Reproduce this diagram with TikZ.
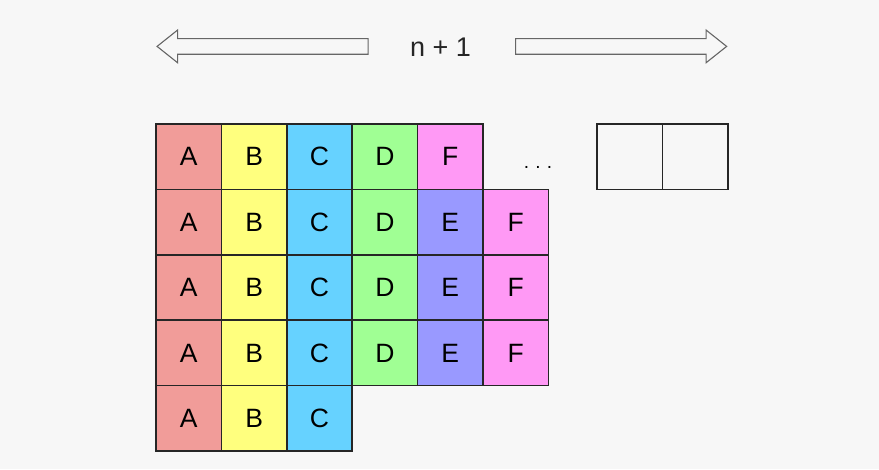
\documentclass[tikz,border=0pt]{standalone}
\usepackage{fontspec}
\setmainfont{Liberation Sans}
\usepackage{tikz}
\usetikzlibrary{positioning, shapes.arrows}
\definecolor{bgcol}{HTML}{F7F7F7}
\definecolor{colA}{HTML}{F19C99}
\definecolor{colB}{HTML}{FFFF7E}
\definecolor{colC}{HTML}{66D2FF}
\definecolor{colD}{HTML}{A0FF94}
\definecolor{colE}{HTML}{9999FF}
\definecolor{colF}{HTML}{FF99F5}

\begin{document}
\begin{tikzpicture}[x=1pt, y=-1pt, node distance=0pt, cell/.style={rectangle, draw=black!85, line width=1.5pt, outer sep=0pt, inner sep=0pt, minimum size=65.4pt, font=\fontsize{26.5}{30}\selectfont}, slot/.style={rectangle, draw=black!85, line width=1.5pt, outer sep=0pt, inner sep=0pt, minimum size=65.4pt}, wide/.style={single arrow, draw=black!60, line width=1.1pt, inner sep=7.3pt, minimum height=211pt, single arrow head extend=8.5pt, single arrow tip angle=77}]

    % Background
    \fill[bgcol] (0,0) rectangle (879,469);
    \useasboundingbox (0,0) rectangle (879,469);

    % Arrows and length
    \node[wide, shape border rotate=180] (leftarr)  at (267.5,46.4) {};
    \node[wide]                          (rightarr) at (616.2,46.4) {};
    \node[font=\fontsize{27}{30}\selectfont, text=black!85] (len) at (440.5,47.6) {n + 1};

    % Row 1
    \node[cell, fill=colA] (a1)                     at (188.7,156.7) {A};
    \node[cell, fill=colB] (b1)     [right=of a1]   {B};
    \node[cell, fill=colC] (c1)     [right=of b1]   {C};
    \node[cell, fill=colD] (d1)     [right=of c1]   {D};
    \node[cell, fill=colF] (f1)     [right=of d1]   {F};
    \node[font=\fontsize{19}{20}\selectfont, anchor=base] (more) at (538,168) {.\,\,.\,\,.};

    % Row 2
    \node[cell, fill=colA] (a2)     [below=of a1]   {A};
    \node[cell, fill=colB] (b2)     [right=of a2]   {B};
    \node[cell, fill=colC] (c2)     [right=of b2]   {C};
    \node[cell, fill=colD] (d2)     [right=of c2]   {D};
    \node[cell, fill=colE] (e2)     [right=of d2]   {E};
    \node[cell, fill=colF] (f2)     [right=of e2]   {F};

    % Row 3
    \node[cell, fill=colA] (a3)     [below=of a2]   {A};
    \node[cell, fill=colB] (b3)     [right=of a3]   {B};
    \node[cell, fill=colC] (c3)     [right=of b3]   {C};
    \node[cell, fill=colD] (d3)     [right=of c3]   {D};
    \node[cell, fill=colE] (e3)     [right=of d3]   {E};
    \node[cell, fill=colF] (f3)     [right=of e3]   {F};

    % Row 4
    \node[cell, fill=colA] (a4)     [below=of a3]   {A};
    \node[cell, fill=colB] (b4)     [right=of a4]   {B};
    \node[cell, fill=colC] (c4)     [right=of b4]   {C};
    \node[cell, fill=colD] (d4)     [right=of c4]   {D};
    \node[cell, fill=colE] (e4)     [right=of d4]   {E};
    \node[cell, fill=colF] (f4)     [right=of e4]   {F};

    % Row 5
    \node[cell, fill=colA] (a5)     [below=of a4]   {A};
    \node[cell, fill=colB] (b5)     [right=of a5]   {B};
    \node[cell, fill=colC] (c5)     [right=of b5]   {C};

    % Empty slots
    \node[slot] (slot1)                     at (629.7,156.7) {};
    \node[slot] (slot2)     [right=of slot1] {};

\end{tikzpicture}
\end{document}
